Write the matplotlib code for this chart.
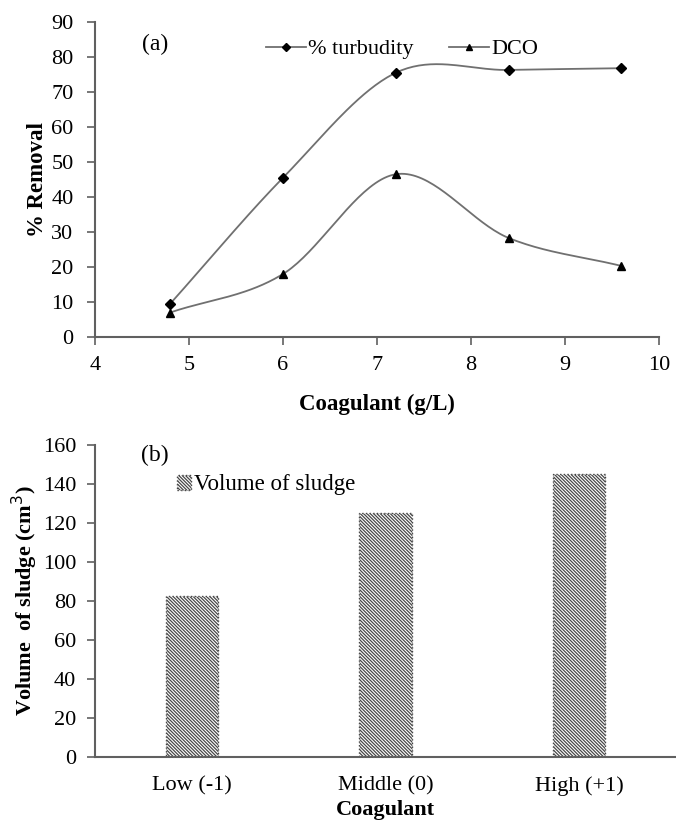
import numpy as np
import matplotlib
matplotlib.use('Agg')
import matplotlib.pyplot as plt

plt.rcParams['font.family'] = ['Liberation Serif', 'DejaVu Serif']
plt.rcParams['hatch.linewidth'] = 0.9

coagulant = [4.8, 6.0, 7.2, 8.4, 9.6]
turbidity = [9.5, 45.5, 75.5, 76.3, 76.8]
dco = [7.0, 18.0, 46.5, 28.3, 20.3]

levels = ['Low (-1)', 'Middle (0)', 'High (+1)']
sludge = [82.5, 125, 145]


def smooth(x, y, n=40):
    # catmull-rom style curve through the points, like the spreadsheet smoothing
    x = np.asarray(x, float)
    y = np.asarray(y, float)
    px = np.concatenate([[2 * x[0] - x[1]], x, [2 * x[-1] - x[-2]]])
    py = np.concatenate([[2 * y[0] - y[1]], y, [2 * y[-1] - y[-2]]])
    xs, ys = [], []
    t = np.linspace(0, 1, n)
    for i in range(1, len(px) - 2):
        for p, out in ((px, xs), (py, ys)):
            p0, p1, p2, p3 = p[i - 1], p[i], p[i + 1], p[i + 2]
            out.extend(0.5 * (2 * p1 + (-p0 + p2) * t
                              + (2 * p0 - 5 * p1 + 4 * p2 - p3) * t ** 2
                              + (-p0 + 3 * p1 - 3 * p2 + p3) * t ** 3))
    return np.array(xs), np.array(ys)


fig = plt.figure(figsize=(6.76, 8.25), dpi=100)
ax1 = fig.add_axes([95 / 676, 1 - 337 / 825, (659 - 95) / 676, (337 - 22) / 825])
ax2 = fig.add_axes([95 / 676, 1 - 757 / 825, (676 - 95) / 676, (757 - 445) / 825])

line_col = '#707070'
spine_col = '#606060'

# (a) removal curves
sx, sy = smooth(coagulant, turbidity)
ax1.plot(sx, sy, color=line_col, lw=1.3)
ax1.plot(coagulant, turbidity, 'D', color='black', ms=5.5, ls='none')
sx, sy = smooth(coagulant, dco)
ax1.plot(sx, sy, color=line_col, lw=1.3)
ax1.plot(coagulant, dco, '^', color='black', ms=6, ls='none')

h1 = ax1.plot([], [], color=line_col, lw=1.3, marker='D', mfc='black', mec='black', ms=4.5)[0]
h2 = ax1.plot([], [], color=line_col, lw=1.3, marker='^', mfc='black', mec='black', ms=5)[0]
ax1.legend([h1, h2], ['% turbudity', 'DCO'], ncol=2, frameon=False,
           loc='upper center', bbox_to_anchor=(0.545, 1.01), fontsize=16,
           handlelength=1.8, handletextpad=0.1, columnspacing=1.6)

ax1.set_xlim(4, 10)
ax1.set_ylim(0, 90)
ax1.set_xticks(range(4, 11))
ax1.set_yticks(range(0, 91, 10))
ax1.text(4.5, 82, '(a)', fontsize=17)
ax1.set_xlabel('Coagulant (g/L)', fontsize=16.5, fontweight='bold', labelpad=14)
ax1.set_ylabel('% Removal', fontsize=16.5, fontweight='bold', labelpad=2)

# (b) sludge bars
x = np.arange(len(levels))
bars = ax2.bar(x, sludge, width=0.27, color='white', edgecolor='#484848',
               hatch='\\' * 10, linewidth=1.0, linestyle=':',
               label='Volume of sludge')
ax2.set_xlim(-0.5, 2.5)
ax2.set_ylim(0, 160)
ax2.set_yticks(range(0, 161, 20))
ax2.set_xticks(x)
ax2.set_xticklabels(levels)
ax2.text(-0.26, 152, '(b)', fontsize=17)
ax2.legend(loc='upper left', bbox_to_anchor=(0.125, 0.935), frameon=False,
           fontsize=16.5, handlelength=0.6, handleheight=0.6, handletextpad=0.15,
           borderaxespad=0)
ax2.set_xlabel('Coagulant', fontsize=16, fontweight='bold', labelpad=3)
ax2.set_ylabel('Volume  of sludge (cm$^3$)', fontsize=16, fontweight='bold', labelpad=2)

for ax in (ax1, ax2):
    for s in ('top', 'right'):
        ax.spines[s].set_visible(False)
    for s in ('left', 'bottom'):
        ax.spines[s].set_color(spine_col)
        ax.spines[s].set_linewidth(1.5)
    ax.tick_params(direction='out', color=spine_col, width=1.2, length=5.5,
                   labelsize=16)
ax1.tick_params(axis='x', pad=8)
ax1.tick_params(axis='y', pad=10)
ax2.tick_params(axis='y', pad=8)
ax2.tick_params(axis='x', length=0, pad=14)

fig.savefig('out.png', dpi=100)
